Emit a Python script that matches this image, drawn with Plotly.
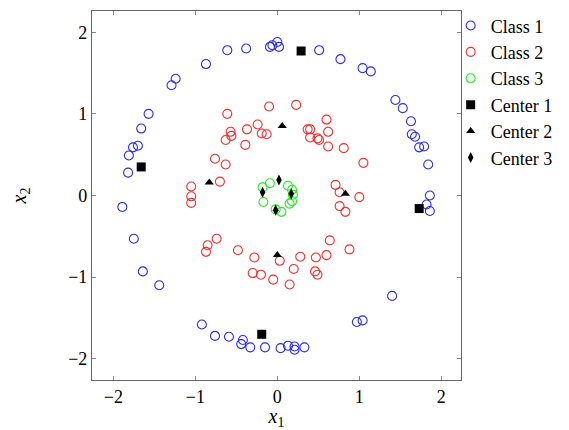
import plotly.graph_objects as go

# Class 1 (outer ring, blue)
c1_x = [-0.61, -0.38, -0.09, -0.06, 0.00, 0.02, -0.87, -1.24, -1.29, -1.57, -1.66, -1.70, -1.76, -1.81, -1.82,
        0.51, 0.77, 1.04, 1.14, 1.44, 1.53, 1.63, 1.64, 1.68, 1.73, 1.79, 1.84, 1.86,
        1.82, 1.86, 1.40, 0.97, 1.04, 0.04, 0.13, 0.21, 0.21, 0.33,
        -1.89, -1.75, -1.64, -1.44, -0.92, -0.76, -0.59, -0.42, -0.44, -0.33, -0.15]
c1_y = [1.78, 1.80, 1.82, 1.84, 1.88, 1.82, 1.61, 1.43, 1.35, 1.00, 0.82, 0.61, 0.59, 0.49, 0.28,
        1.78, 1.67, 1.56, 1.52, 1.17, 1.07, 0.91, 0.75, 0.72, 0.59, 0.60, 0.38, 0.00,
        -0.11, -0.19, -1.23, -1.55, -1.53, -1.87, -1.84, -1.85, -1.89, -1.86,
        -0.14, -0.53, -0.93, -1.10, -1.58, -1.72, -1.73, -1.77, -1.82, -1.86, -1.86]

# Class 2 (middle ring, red)
c2_x = [-0.10, -0.61, -0.24, -0.37, -0.57, -0.56, -0.63, -0.19, -0.13, -0.39, -0.76, -0.63, -0.70, -1.05, -1.05, -1.05,
        0.23, 0.60, 0.37, 0.40, 0.62, 0.40, 0.49, 0.51, 0.62, 0.81, 1.05, 0.71, 0.76, 1.00,
        0.76, 0.83, 0.64, 0.88, 0.03, 0.28, 0.47, 0.60, 0.20, 0.46, 0.49, 0.15,
        -0.74, -0.85, -0.87, -0.48, -0.28, -0.30, -0.20, -0.05]
c2_y = [1.09, 1.00, 0.87, 0.81, 0.78, 0.73, 0.68, 0.76, 0.75, 0.62, 0.45, 0.38, 0.17, 0.11, -0.01, -0.09,
        1.11, 0.93, 0.81, 0.81, 0.78, 0.71, 0.70, 0.68, 0.60, 0.58, 0.40, 0.13, 0.04, -0.02,
        -0.13, -0.20, -0.55, -0.66, -0.80, -0.75, -0.76, -0.73, -0.90, -0.93, -0.97, -1.09,
        -0.53, -0.61, -0.69, -0.67, -0.76, -0.95, -0.97, -1.03]

# Class 3 (inner ring, green)
c3_x = [-0.18, -0.09, -0.17, 0.13, 0.18, 0.19, 0.18, 0.15, 0.05, -0.02]
c3_y = [0.10, 0.15, -0.08, 0.12, 0.07, 0.01, -0.07, -0.10, -0.20, -0.17]

# Centers
ctr1_x = [-1.66, 0.29, 1.73, -0.19]
ctr1_y = [0.35, 1.77, -0.16, -1.70]
ctr2_x = [-0.83, 0.06, 0.83, 0.00]
ctr2_y = [0.16, 0.85, 0.02, -0.73]
ctr3_x = [0.02, -0.18, 0.17, -0.02]
ctr3_y = [0.19, 0.04, 0.02, -0.18]

tick_vals = [-2, -1, 0, 1, 2]

FONT = "'Liberation Serif', 'Times New Roman', 'DejaVu Serif', serif"

fig = go.Figure()
fig.add_trace(go.Scatter(x=c1_x, y=c1_y, mode="markers", name="Class 1",
                         marker=dict(symbol="circle-open", size=9, color="#2a2aff", line=dict(width=1.1))))
fig.add_trace(go.Scatter(x=c2_x, y=c2_y, mode="markers", name="Class 2",
                         marker=dict(symbol="circle-open", size=9, color="#ff2a2a", line=dict(width=1.1))))
fig.add_trace(go.Scatter(x=c3_x, y=c3_y, mode="markers", name="Class 3",
                         marker=dict(symbol="circle-open", size=9, color="#22ee22", line=dict(width=1.1))))
fig.add_trace(go.Scatter(x=ctr1_x, y=ctr1_y, mode="markers", name="Center 1",
                         marker=dict(symbol="square", size=9, color="black")))
fig.add_trace(go.Scatter(x=ctr2_x, y=ctr2_y, mode="markers", name="Center 2",
                         marker=dict(symbol="triangle-up", size=8, color="black")))
fig.add_trace(go.Scatter(x=ctr3_x, y=ctr3_y, mode="markers", name="Center 3",
                         marker=dict(symbol="diamond-tall", size=8, color="black")))

axis_common = dict(
    tickvals=tick_vals,
    ticks="inside", ticklen=4, tickcolor="#888888", tickwidth=1,
    showline=True, linecolor="#666666", linewidth=1.2, mirror="ticks",
    showgrid=False, zeroline=False, automargin=False,
    tickfont=dict(family=FONT, size=18, color="black"),
)

fig.update_layout(
    width=569, height=430,
    margin=dict(l=92, r=108, t=11, b=50, autoexpand=False),
    paper_bgcolor="white", plot_bgcolor="white",
    font=dict(family=FONT, size=18, color="black"),
    xaxis=dict(range=[-2.26, 2.24], title=dict(text="<i>x</i><sub>1</sub>", standoff=2,
               font=dict(family=FONT, size=20)), **axis_common),
    yaxis=dict(range=[-2.26, 2.26], title=dict(text="<i>x</i><sub>2</sub>", standoff=36,
               font=dict(family=FONT, size=20)), **axis_common),
    legend=dict(x=0.972, y=1.01, xanchor="left", yanchor="top",
                font=dict(family=FONT, size=18), bgcolor="rgba(0,0,0,0)",
                itemwidth=30, tracegroupgap=0),
    showlegend=True,
)

fig.write_html("out.html", config={"displayModeBar": False},
               post_script="document.body.style.margin='0';")
